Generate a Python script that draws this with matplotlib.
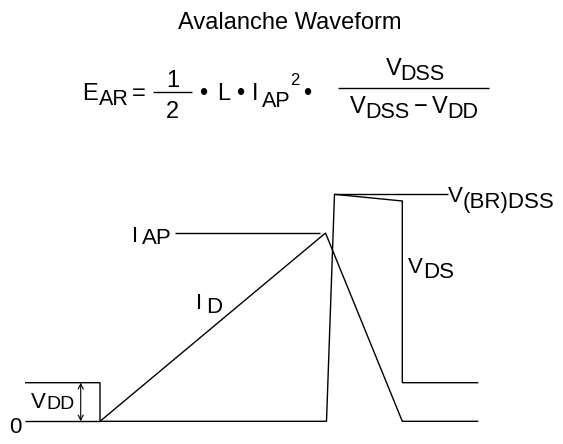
import matplotlib
matplotlib.use('Agg')
import matplotlib.pyplot as plt

plt.rcParams['font.family'] = ['Liberation Sans', 'DejaVu Sans']

# ---------------- data (schematic levels and time points) ----------------
vdd_level = 38.6          # supply voltage level
iap_level = 188.6         # peak avalanche current
vbr_level = 227.3         # breakdown voltage level
vds_clamp_end = 220.3     # VDS at end of avalanche

zero_t = [25, 100]
zero_v = [0, 0]

id_t = [100, 325.5, 402.3, 478.3]
id_v = [0, 188.3, 0, 0]

vds_t = [25, 100, 100, 326.5, 334.5, 402.3, 402.3, 478.3]
vds_v = [vdd_level, vdd_level, 0, 0, 227.0, vds_clamp_end, vdd_level, vdd_level]

iap_ref_t = [175, 320]
vbr_ref_t = [335, 448]
vdd_arrow_t = 80.7

# ---------------- figure ----------------
W, H = 563, 444
BASE_PY = 421.3
fig = plt.figure(figsize=(W / 100, H / 100), dpi=100)
ax = fig.add_axes([0, 0, 1, 1])
ax.set_xlim(0, W)
ax.set_ylim(BASE_PY - H, BASE_PY)
ax.axis('off')

LW = 1.0
kw = dict(color='black', lw=LW, solid_joinstyle='miter', solid_capstyle='butt')
ax.plot(zero_t, zero_v, **kw)
ax.plot(vds_t, vds_v, **kw)
ax.plot(id_t, id_v, **kw)
ax.plot(iap_ref_t, [iap_level] * 2, **kw)
ax.plot(vbr_ref_t, [vbr_level] * 2, **kw)
ax.annotate('', xy=(vdd_arrow_t, vdd_level), xytext=(vdd_arrow_t, 0),
            arrowprops=dict(arrowstyle='<->', lw=0.8, color='black',
                            shrinkA=0, shrinkB=0, mutation_scale=9))


def T(x, py, s, size=16, ha='left'):
    ax.text(x, BASE_PY - py, s, fontsize=size, ha=ha, va='baseline', color='black')


def HL(x0, x1, py, lw=1.0):
    ax.plot([x0, x1], [BASE_PY - py] * 2, color='black', lw=lw, solid_capstyle='butt')


# title
T(289.5, 29, 'Avalanche Waveform', size=17, ha='center')

# equation
EQ = 17
SUB = 15.5
T(82.5, 100, 'E', EQ)
T(98.5, 105, 'AR', SUB)
T(138.5, 100, '=', EQ, ha='center')
HL(153, 191.7, 92.3)
T(173.3, 86.7, '1', EQ, ha='center')
T(172.3, 118, '2', EQ, ha='center')
T(203, 100, '•', EQ, ha='center')
T(216.7, 100, 'L', EQ)
T(240, 100, '•', EQ, ha='center')
T(251.7, 100, 'I', EQ)
T(261.7, 106.7, 'AP', SUB)
T(290, 85, '2', 12)
T(306.7, 100, '•', EQ, ha='center')
HL(338.3, 489, 88.3)
T(386, 75, 'V', EQ)
T(400, 80, 'DSS', SUB)
T(350, 113.3, 'V', EQ)
T(365, 118.3, 'DSS', SUB)
T(421, 113.3, '−', EQ, ha='center')
T(432, 113.3, 'V', EQ)
T(447, 118.3, 'DD', SUB)

# diagram labels
T(15, 433, '0', 16, ha='center')
T(31, 408.3, 'V', 16)
T(46, 409, 'DD', 14)
T(131.7, 242, 'I', 16)
T(141.7, 244, 'AP', 16)
T(196, 309, 'I', 16)
T(206, 313.3, 'D', 16)
T(408, 273.3, 'V', 16)
T(422.7, 278.3, 'DS', 16)
T(448.3, 201.7, 'V', 16)
T(463, 208, '(BR)DSS', 16)

fig.savefig('out.png', dpi=100)
